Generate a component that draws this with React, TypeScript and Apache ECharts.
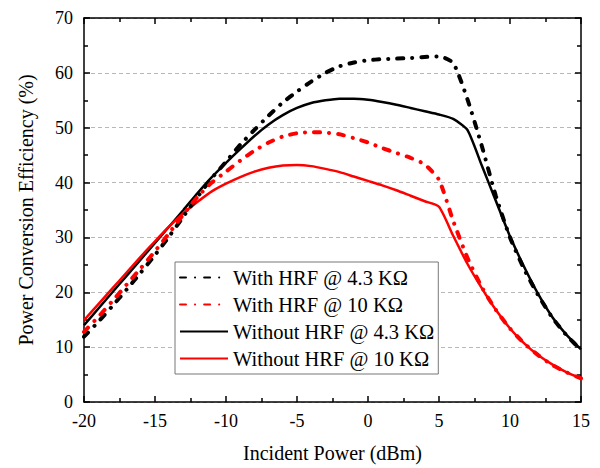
import React, { useEffect, useRef } from "react";
import * as echarts from "echarts";

// Incident power (dBm)
const incidentPower = [
  -20, -19, -18, -17, -16, -15, -14, -13, -12, -11, -10, -9, -8, -7, -6, -5, -4, -3,
  -2, -1, 0, 1, 2, 3, 4, 5, 6, 7, 8, 9, 10, 11, 12, 13, 14, 15,
];

// Power conversion efficiency (%)
const withHrf43 = [
  11.9, 14.6, 17.5, 20.5, 23.6, 26.8, 30.2, 33.8, 37.4, 40.8, 43.8, 46.9, 49.6, 52.2,
  54.6, 56.6, 58.4, 60.0, 61.2, 61.9, 62.3, 62.5, 62.6, 62.7, 62.9, 63.0, 61.8, 55.2,
  46.8, 37.6, 30.0, 24.2, 19.4, 15.3, 12.1, 9.5,
];
const withHrf10 = [
  12.8, 15.5, 18.4, 21.4, 24.4, 27.5, 30.8, 34.2, 37.4, 40.0, 42.0, 44.0, 45.8, 47.3,
  48.4, 49.0, 49.2, 49.1, 48.8, 48.1, 47.3, 46.3, 45.4, 44.5, 43.3, 40.5, 33.0, 26.3,
  21.0, 16.8, 13.4, 10.7, 8.5, 6.7, 5.4, 4.3,
];
const withoutHrf43 = [
  14.0, 17.0, 20.0, 23.0, 26.0, 29.0, 32.0, 35.0, 38.1, 41.0, 43.6, 46.1, 48.5, 50.6,
  52.3, 53.6, 54.5, 55.0, 55.3, 55.3, 55.1, 54.7, 54.2, 53.6, 53.0, 52.4, 51.6, 49.6,
  43.2, 36.7, 30.2, 24.6, 19.6, 15.4, 12.2, 9.6,
];
const withoutHrf10 = [
  14.9, 17.8, 20.7, 23.6, 26.5, 29.3, 32.0, 34.4, 36.5, 38.4, 39.8, 41.0, 42.0, 42.7,
  43.1, 43.2, 43.0, 42.5, 41.9, 41.1, 40.3, 39.5, 38.6, 37.6, 36.6, 35.6, 30.3, 25.2,
  20.8, 16.8, 13.4, 10.7, 8.5, 6.8, 5.4, 4.3,
];

const seriesNames = [
  "With HRF @ 4.3 KΩ",
  "With HRF @ 10 KΩ",
  "Without HRF @ 4.3 KΩ",
  "Without HRF @ 10 KΩ",
];

const FONT = "Liberation Serif";

const pairs = (ys: number[]) => incidentPower.map((x, i) => [x, ys[i]]);

export default function App() {
  const ref = useRef<HTMLDivElement>(null);

  useEffect(() => {
    if (!ref.current) return;
    const chart = echarts.init(ref.current, undefined, { renderer: "svg" });
    const axisLine = { show: true, onZero: false, lineStyle: { color: "#000", width: 1.5 } };
    const tickStyle = { color: "#000", width: 1.5 };
    const labelStyle = { color: "#000", fontSize: 18, fontFamily: FONT };
    const dashDot = [6, 9, 0.1, 9];

    chart.setOption({
      animation: false,
      backgroundColor: "#fff",
      textStyle: { fontFamily: FONT },
      grid: { left: 84, right: 19, top: 18, bottom: 64, containLabel: false },
      legend: {
        orient: "vertical",
        left: 175,
        top: 262,
        itemWidth: 48,
        itemHeight: 14,
        itemGap: 6,
        padding: [5, 4, 5, 4],
        borderColor: "#777",
        borderWidth: 1,
        backgroundColor: "#fff",
        itemStyle: { opacity: 0 },
        textStyle: { color: "#000", fontSize: 20.5, fontFamily: FONT },
        data: seriesNames,
      },
      xAxis: [
        {
          type: "value",
          min: -20,
          max: 15,
          interval: 5,
          name: "Incident Power (dBm)",
          nameLocation: "middle",
          nameGap: 41,
          nameTextStyle: { color: "#000", fontSize: 20, fontFamily: FONT },
          axisLine,
          axisTick: { show: true, inside: true, length: 6, lineStyle: tickStyle },
          minorTick: { show: true, splitNumber: 2, length: 4, lineStyle: tickStyle },
          axisLabel: { ...labelStyle, margin: 10 },
          splitLine: { show: false },
        },
        {
          type: "value",
          position: "top",
          min: -20,
          max: 15,
          interval: 5,
          axisLine,
          axisTick: { show: true, inside: true, length: 6, lineStyle: tickStyle },
          minorTick: { show: true, splitNumber: 2, length: 4, lineStyle: tickStyle },
          axisLabel: { show: false },
          splitLine: { show: false },
        },
      ],
      yAxis: [
        {
          type: "value",
          min: 0,
          max: 70,
          interval: 10,
          name: "Power Conversion Efficiency (%)",
          nameLocation: "middle",
          nameGap: 48,
          nameTextStyle: { color: "#000", fontSize: 20, fontFamily: FONT },
          axisLine,
          axisTick: { show: true, inside: true, length: 6, lineStyle: tickStyle },
          minorTick: { show: true, splitNumber: 2, length: 4, lineStyle: tickStyle },
          axisLabel: { ...labelStyle, margin: 11 },
          splitLine: {
            show: true,
            lineStyle: { color: "#b8b8b8", width: 1, type: [4, 3] },
          },
        },
        {
          type: "value",
          position: "right",
          min: 0,
          max: 70,
          interval: 10,
          axisLine,
          axisTick: { show: true, inside: true, length: 6, lineStyle: tickStyle },
          minorTick: { show: true, splitNumber: 2, length: 4, lineStyle: tickStyle },
          axisLabel: { show: false },
          splitLine: { show: false },
        },
      ],
      series: [
        {
          name: seriesNames[0],
          type: "line",
          data: pairs(withHrf43),
          symbol: "none",
          smooth: 0.2,
          z: 4,
          lineStyle: { color: "#000", width: 4, type: dashDot, cap: "round" },
          itemStyle: { color: "#000" },
        },
        {
          name: seriesNames[1],
          type: "line",
          data: pairs(withHrf10),
          symbol: "none",
          smooth: 0.2,
          z: 4,
          lineStyle: { color: "#f00", width: 4, type: dashDot, cap: "round" },
          itemStyle: { color: "#f00" },
        },
        {
          name: seriesNames[2],
          type: "line",
          data: pairs(withoutHrf43),
          symbol: "none",
          smooth: 0.2,
          z: 3,
          lineStyle: { color: "#000", width: 2.5, type: "solid" },
          itemStyle: { color: "#000" },
        },
        {
          name: seriesNames[3],
          type: "line",
          data: pairs(withoutHrf10),
          symbol: "none",
          smooth: 0.2,
          z: 3,
          lineStyle: { color: "#f00", width: 2.5, type: "solid" },
          itemStyle: { color: "#f00" },
        },
      ],
    });
    return () => chart.dispose();
  }, []);

  return (
    <div
      ref={ref}
      style={{ position: "fixed", left: 0, top: 0, width: 600, height: 468 }}
    />
  );
}
